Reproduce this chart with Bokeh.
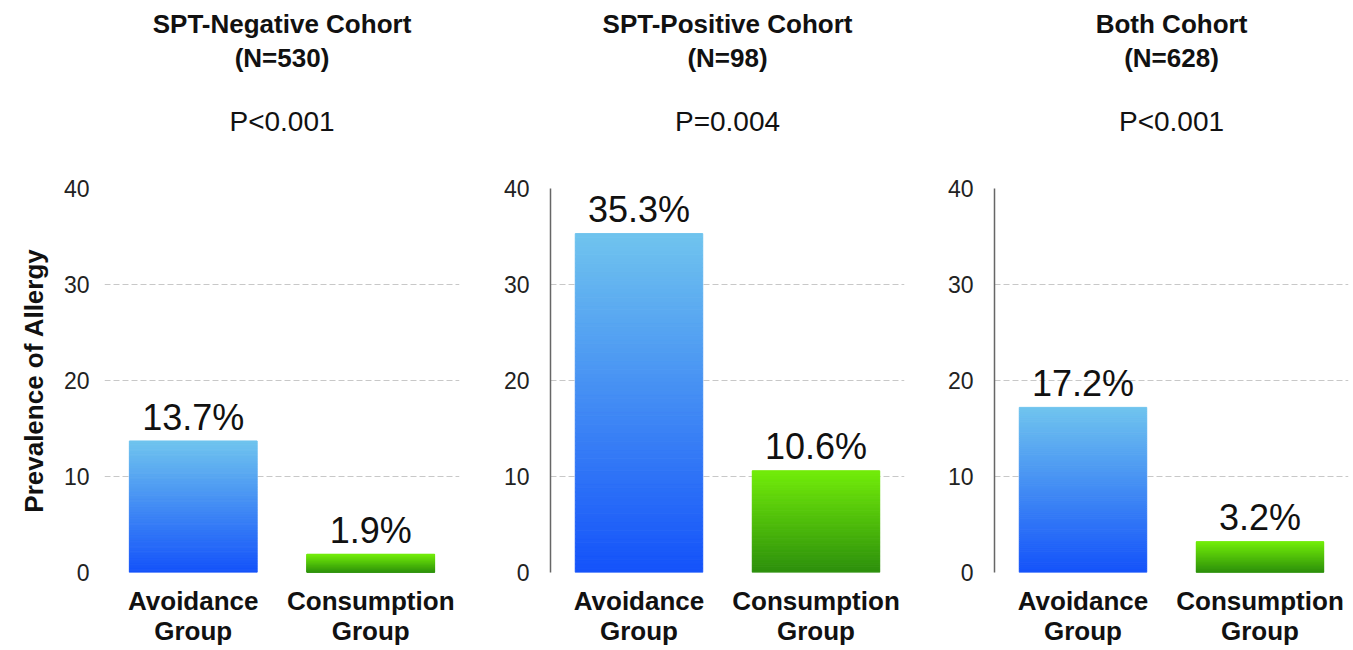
from bokeh.plotting import figure
from bokeh.layouts import row, column
from bokeh.models import FixedTicker, Range1d, ColumnDataSource
from bokeh.core.properties import value
from bokeh.embed import file_html
from bokeh.resources import INLINE

# ---- data ----
cohort_titles = ["SPT-Negative Cohort", "SPT-Positive Cohort", "Both Cohort"]
cohort_n = ["(N=530)", "(N=98)", "(N=628)"]
p_values = ["P<0.001", "P=0.004", "P<0.001"]
groups = ["Avoidance\nGroup", "Consumption\nGroup"]
avoidance = [13.7, 35.3, 17.2]
consumption = [1.9, 10.6, 3.2]
y_ticks = [0, 10, 20, 30, 40]
y_label = "Prevalence of Allergy"

FONT = "Liberation Sans"
blue_bottom, blue_top = (0x14, 0x52, 0xFA), (0x70, 0xC4, 0xEE)
green_bottom, green_top = (0x2C, 0x8E, 0x0C), (0x72, 0xEC, 0x0A)

widths = [470, 444, 437]
left_b = [104, 80, 80]
right_b = [11, 10, 3]
HEAD_H = 166
TOP_B, FRAME_H, BOT_B = 22, 384, 77


def hexcol(c0, c1, t):
    return "#%02x%02x%02x" % tuple(int(round(a + (b - a) * t)) for a, b in zip(c0, c1))


def gradient_bar(p, x, v, c_bot, c_top, n=80, w=0.72):
    xs, bots, tops, cols = [], [], [], []
    for k in range(n):
        xs.append(x)
        bots.append(v * k / n)
        tops.append(v * (k + 1) / n)
        cols.append(hexcol(c_bot, c_top, (k + 0.5) / n))
    src = ColumnDataSource(dict(x=xs, bottom=bots, top=tops, c=cols))
    p.vbar(x="x", bottom="bottom", top="top", width=w, source=src,
           fill_color="c", line_color="c", line_width=1)


heads, figs = [], []
for i in range(3):
    xr = Range1d(0.5, 2.5)

    # ---- header (titles) ----
    h = figure(width=widths[i], height=HEAD_H, output_backend="svg", toolbar_location=None,
               x_range=xr, y_range=Range1d(0, HEAD_H),
               min_border_left=left_b[i], min_border_right=right_b[i],
               min_border_top=0, min_border_bottom=0)
    h.axis.visible = False
    h.grid.visible = False
    h.outline_line_color = None
    head = ColumnDataSource(dict(x=[1.5, 1.5], y=[HEAD_H - 23, HEAD_H - 57],
                                 t=[cohort_titles[i], cohort_n[i]]))
    h.text(x="x", y="y", text="t", source=head, text_align="center",
           text_baseline="middle", text_font=value(FONT), text_font_size="26px",
           text_font_style="bold", text_color="#111111")
    pv = ColumnDataSource(dict(x=[1.5], y=[HEAD_H - 121], t=[p_values[i]]))
    h.text(x="x", y="y", text="t", source=pv, text_align="center",
           text_baseline="middle", text_font=value(FONT), text_font_size="28px",
           text_color="#111111")
    heads.append(h)

    # ---- bar panel ----
    p = figure(width=widths[i], height=TOP_B + FRAME_H + BOT_B, output_backend="svg",
               toolbar_location=None, x_range=xr, y_range=Range1d(0, 40),
               min_border_left=left_b[i], min_border_right=right_b[i],
               min_border_top=TOP_B, min_border_bottom=BOT_B)
    p.outline_line_color = None
    p.xgrid.grid_line_color = None
    p.ygrid.ticker = FixedTicker(ticks=[10, 20, 30])
    p.ygrid.grid_line_color = "#c8c8c8"
    p.ygrid.grid_line_dash = "6 3"
    p.ygrid.grid_line_width = 1

    p.yaxis.ticker = FixedTicker(ticks=y_ticks)
    p.yaxis.major_tick_line_color = None
    p.yaxis.minor_tick_line_color = None
    p.yaxis.major_label_text_font = FONT
    p.yaxis.major_label_text_font_size = "23px"
    p.yaxis.major_label_text_color = "#222222"
    if i == 0:
        p.yaxis.axis_line_color = None
        p.yaxis.major_label_standoff = 9
        p.yaxis.axis_label = y_label
        p.yaxis.axis_label_text_font = FONT
        p.yaxis.axis_label_text_font_size = "26px"
        p.yaxis.axis_label_text_font_style = "bold"
        p.yaxis.axis_label_text_color = "#111111"
        p.yaxis.axis_label_standoff = 12
    else:
        p.yaxis.axis_line_color = "#666666"
        p.yaxis.axis_line_width = 1.5
        p.yaxis.major_label_standoff = 15

    p.xaxis.ticker = FixedTicker(ticks=[1, 2])
    p.xaxis.major_label_overrides = {1: groups[0], 2: groups[1]}
    p.xaxis.axis_line_color = None
    p.xaxis.major_tick_line_color = None
    p.xaxis.minor_tick_line_color = None
    p.xaxis.major_label_text_font = FONT
    p.xaxis.major_label_text_font_size = "26px"
    p.xaxis.major_label_text_font_style = "bold"
    p.xaxis.major_label_text_color = "#111111"
    p.xaxis.major_label_text_line_height = 1.0
    p.xaxis.major_label_standoff = 7

    vals = [avoidance[i], consumption[i]]
    gradient_bar(p, 1, vals[0], blue_bottom, blue_top)
    gradient_bar(p, 2, vals[1], green_bottom, green_top)

    lab = ColumnDataSource(dict(x=[1, 2], y=[v + 0.35 for v in vals],
                                t=["%.1f%%" % v for v in vals]))
    p.text(x="x", y="y", text="t", source=lab, text_align="center",
           text_baseline="bottom", text_font=value(FONT), text_font_size="36px",
           text_color="#111111")
    figs.append(p)

layout = column(row(*heads), row(*figs))
open("out.html", "w").write(file_html(layout, INLINE))
